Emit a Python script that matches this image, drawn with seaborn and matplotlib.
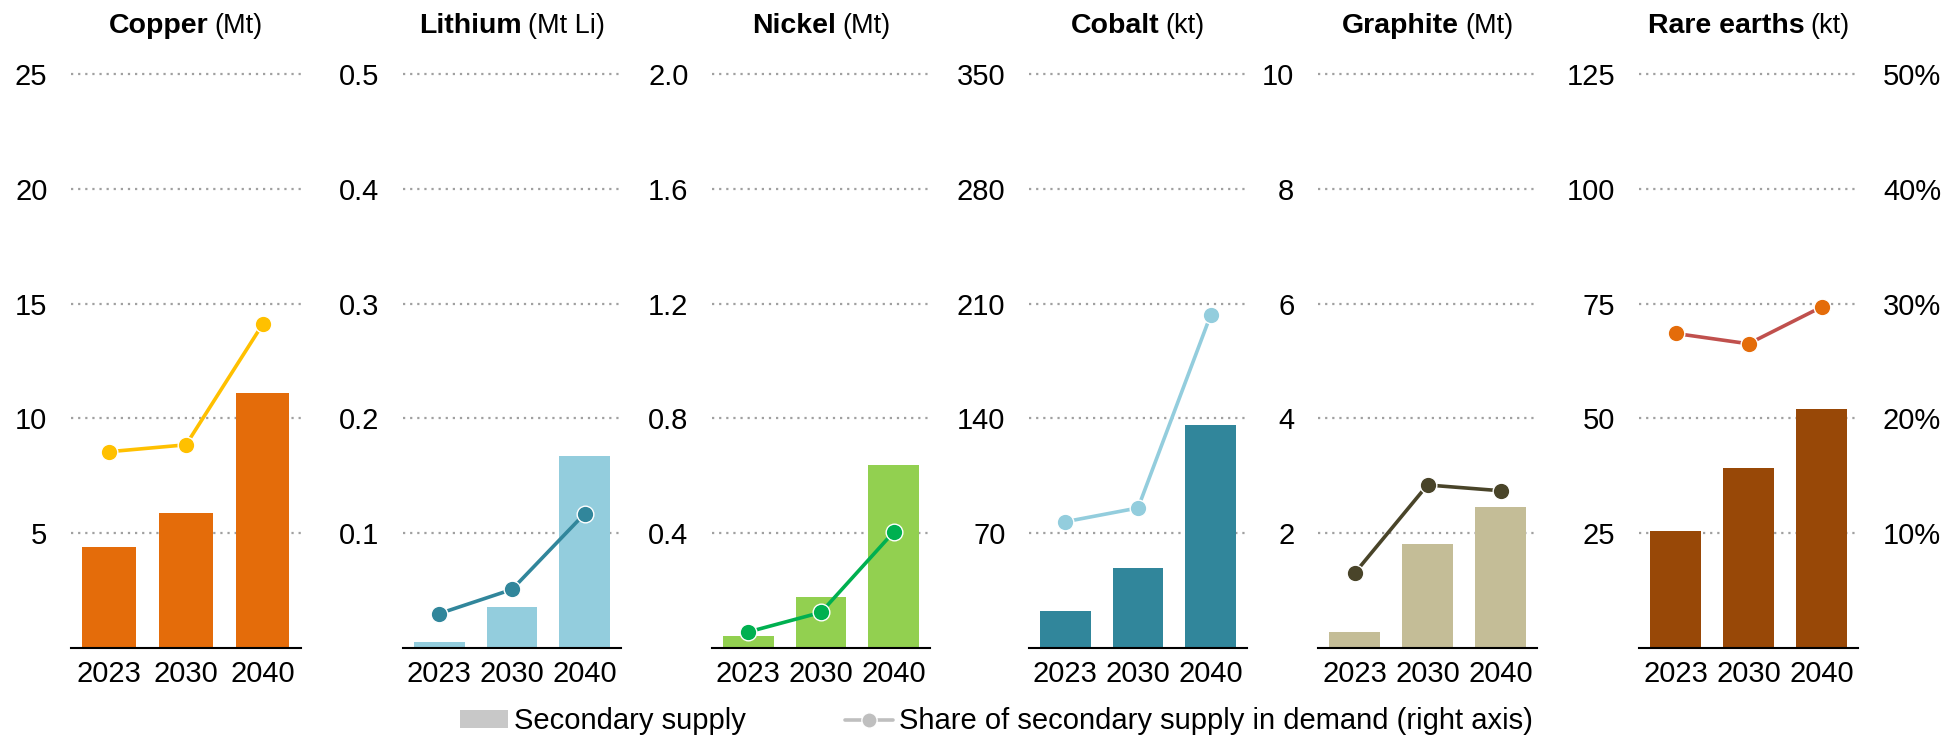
import numpy as np
import pandas as pd
import seaborn as sns
import matplotlib.pyplot as plt
from matplotlib.patches import Patch
from matplotlib.lines import Line2D

years = ["2023", "2030", "2040"]
minerals = ["Copper", "Lithium", "Nickel", "Cobalt", "Graphite", "Rare earths"]
units = ["(Mt)", "(Mt Li)", "(Mt)", "(kt)", "(Mt)", "(kt)"]

# secondary supply (left axis, panel units)
copper_supply = [4.4, 5.9, 11.1]
lithium_supply = [0.005, 0.036, 0.167]
nickel_supply = [0.043, 0.177, 0.636]
cobalt_supply = [22.7, 49, 136]
graphite_supply = [0.28, 1.82, 2.45]
rare_earths_supply = [25.4, 39.2, 52.0]

# share of secondary supply in demand (right axis, %)
copper_share = [17.1, 17.7, 28.2]
lithium_share = [3.0, 5.1, 11.7]
nickel_share = [1.4, 3.1, 10.1]
cobalt_share = [11.0, 12.2, 29.0]
graphite_share = [6.5, 14.2, 13.7]
rare_earths_share = [27.4, 26.5, 29.7]

left_max = [25, 0.5, 2.0, 350, 10, 125]
left_fmt = ["{:.0f}", "{:.1f}", "{:.1f}", "{:.0f}", "{:.0f}", "{:.0f}"]
share_ticks = [10, 20, 30, 40, 50]

supply = [copper_supply, lithium_supply, nickel_supply, cobalt_supply,
          graphite_supply, rare_earths_supply]
share = [copper_share, lithium_share, nickel_share, cobalt_share,
         graphite_share, rare_earths_share]

bar_colors = ["#E46C0A", "#93CDDD", "#92D050", "#31869B", "#C4BD97", "#984807"]
line_colors = ["#FFC000", "#31869B", "#00B050", "#93CDDD", "#494429", "#C0504D"]
marker_colors = ["#FFC000", "#31869B", "#00B050", "#93CDDD", "#494429", "#E46C0A"]

sns.set_style("white")
plt.rcParams["font.family"] = ["Liberation Sans", "DejaVu Sans"]
plt.rcParams["text.color"] = "black"
plt.rcParams["xtick.color"] = "black"
plt.rcParams["ytick.color"] = "black"

W, H = 1946, 739
fig = plt.figure(figsize=(W / 100, H / 100), dpi=100)

panels_px = [(71, 301), (403, 621), (712, 930), (1029, 1247), (1318, 1537), (1639, 1858)]
top_px, base_px = 74, 648
fs = 21

titles = []
for i, m in enumerate(minerals):
    x0, x1 = panels_px[i]
    ax = fig.add_axes([x0 / W, 1 - base_px / H, (x1 - x0) / W, (base_px - top_px) / H])
    df = pd.DataFrame({"year": years, "pos": [0, 1, 2],
                       "supply": supply[i], "share": share[i]})

    sns.barplot(data=df, x="year", y="supply", color=bar_colors[i], saturation=1,
                width=0.7, linewidth=0, ax=ax)
    ax.set_ylim(0, left_max[i])
    ticks = np.linspace(left_max[i] / 5, left_max[i], 5)
    ax.set_yticks(ticks, [left_fmt[i].format(t) for t in ticks])
    ax.yaxis.grid(True, linestyle=(0, (1, 2.2)), color="#A0A0A0", linewidth=1.6)
    for gl in ax.get_ygridlines():
        gl.set_clip_on(False)
    ax.set_axisbelow(True)
    for s in ["top", "right", "left"]:
        ax.spines[s].set_visible(False)
    ax.spines["bottom"].set_color("black")
    ax.spines["bottom"].set_linewidth(1.5)
    ax.set_xlabel("")
    ax.set_ylabel("")

    ax2 = ax.twinx()
    sns.lineplot(data=df, x="pos", y="share", color=line_colors[i], marker="o",
                 markersize=12, markerfacecolor=marker_colors[i],
                 markeredgecolor="white", markeredgewidth=1, linewidth=2.6, ax=ax2)
    ax2.set_ylim(0, 50)
    ax2.set_ylabel("")
    for s in ax2.spines.values():
        s.set_visible(False)
    if i == len(minerals) - 1:
        ax2.set_yticks(share_ticks, [f"{t}%" for t in share_ticks])
        ax2.tick_params(axis="y", length=0, pad=18, labelsize=fs)
    else:
        ax2.set_yticks([])

    ax.set_xlim(-0.5, 2.5)
    ax.set_xticks([0, 1, 2], years)
    ax.tick_params(axis="x", length=0, pad=9, labelsize=fs)
    ax.tick_params(axis="y", length=0, pad=17, labelsize=fs)

    cx = (x0 + x1) / 2 / W
    t1 = fig.text(cx, 1 - 33 / H, m, ha="left", va="baseline", fontsize=20.5, fontweight="bold")
    t2 = fig.text(cx, 1 - 33 / H, units[i], ha="left", va="baseline", fontsize=19.5)
    titles.append((cx, t1, t2))

fig.canvas.draw()
r = fig.canvas.get_renderer()
gap = 6
for cx, t1, t2 in titles:
    w1 = t1.get_window_extent(r).width
    w2 = t2.get_window_extent(r).width
    start = cx * W - (w1 + gap + w2) / 2
    t1.set_x(start / W)
    t2.set_x((start + w1 + gap) / W)

handles = [Patch(facecolor="#C8C8C8", edgecolor="none"),
           Line2D([0], [0], color="#BFBFBF", linewidth=2.6, marker="o", markersize=11,
                  markerfacecolor="#BFBFBF", markeredgecolor="white")]
fig.legend(handles, ["Secondary supply", "Share of secondary supply in demand (right axis)"],
           loc="center", bbox_to_anchor=(0.512, 0.024), ncol=2, frameon=False,
           fontsize=fs, handlelength=1.65, handleheight=0.55, handletextpad=0.2,
           columnspacing=3.4, borderpad=0)

fig.savefig("out.png", dpi=100)
